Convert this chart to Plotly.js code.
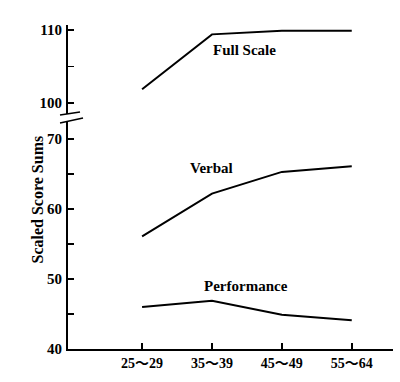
<!DOCTYPE html>
<html>
<head>
<meta charset="utf-8">
<script src="https://cdn.plot.ly/plotly-3.0.1.min.js"></script>
<style>html,body{margin:0;padding:0;background:#fff;}#chart{width:400px;height:382px;}</style>
</head>
<body>
<div id="chart"></div>
<script>
var ageGroups = ["25～29", "35～39", "45～49", "55～64"];
var fullScale = [101.9, 109.4, 109.9, 109.9];
var verbal = [56.1, 62.2, 65.3, 66.1];
var performance = [46, 46.9, 44.9, 44.1];
var lowerTicks = [40, 45, 50, 55, 60, 65, 70];
var lowerTickText = ["40", "", "50", "", "60", "", "70"];
var upperTicks = [100, 105, 110];
var upperTickText = ["100", "", "110"];

var fontFam = "Liberation Serif, DejaVu Serif, Noto Sans CJK JP, serif";
var lineStyle = {color: "#000", width: 2};
var xIdx = ageGroups.map(function(_, i){ return i; });

var traces = [
  {x: xIdx, y: fullScale, yaxis: "y2", mode: "lines", line: lineStyle, hoverinfo: "skip"},
  {x: xIdx, y: verbal, yaxis: "y", mode: "lines", line: lineStyle, hoverinfo: "skip"},
  {x: xIdx, y: performance, yaxis: "y", mode: "lines", line: lineStyle, hoverinfo: "skip"}
];

var tickFont = {family: fontFam, size: 15, color: "#000", weight: "bold"};
var labelFont = {family: fontFam, size: 15, color: "#000", weight: "bold"};
var layout = {
  width: 400, height: 382,
  margin: {l: 68, r: 7, t: 25, b: 33},
  paper_bgcolor: "#fff", plot_bgcolor: "#fff",
  showlegend: false,
  xaxis: {
    range: [-1.06, 3.59], tickvals: xIdx, ticktext: ageGroups,
    showgrid: false, zeroline: false, showline: true, linecolor: "#000", linewidth: 2,
    ticks: "inside", ticklen: 6, tickwidth: 1.5, tickcolor: "#000",
    tickfont: {family: fontFam, size: 14, color: "#000", weight: "bold"}, anchor: "y"
  },
  yaxis: {
    domain: [0, 0.7037], range: [40, 72.57],
    tickvals: lowerTicks, ticktext: lowerTickText,
    showgrid: false, zeroline: false, showline: true, linecolor: "#000", linewidth: 2,
    ticks: "inside", ticklen: 6, tickwidth: 1.5, tickcolor: "#000",
    tickfont: tickFont, ticklabelstandoff: 1
  },
  yaxis2: {
    domain: [0.725, 1], range: [98.49, 110.68],
    tickvals: upperTicks, ticktext: upperTickText,
    showgrid: false, zeroline: false, showline: true, linecolor: "#000", linewidth: 2,
    ticks: "inside", ticklen: 6, tickwidth: 1.5, tickcolor: "#000",
    tickfont: tickFont, ticklabelstandoff: 1, anchor: "x"
  },
  shapes: [
    {type: "line", xref: "paper", yref: "paper", x0: -0.0246, y0: 0.7222, x1: 0.0369, y1: 0.7315, line: {color: "#000", width: 1.5}},
    {type: "line", xref: "paper", yref: "paper", x0: -0.0246, y0: 0.6975, x1: 0.0462, y1: 0.7130, line: {color: "#000", width: 1.5}}
  ],
  annotations: [
    {text: "Full Scale", xref: "x", yref: "y2", x: 1.47, y: 107.3, showarrow: false, font: labelFont},
    {text: "Verbal", xref: "x", yref: "y", x: 1.0, y: 65.9, showarrow: false, font: labelFont},
    {text: "Performance", xref: "x", yref: "y", x: 1.49, y: 49.0, showarrow: false, font: labelFont},
    {text: "Scaled Score Sums", xref: "paper", yref: "paper", x: -0.126, y: 0.46,
     textangle: -90, showarrow: false,
     font: {family: fontFam, size: 16, color: "#000", weight: "bold"}}
  ]
};

Plotly.newPlot("chart", traces, layout, {displayModeBar: false, staticPlot: true});
</script>
</body>
</html>
